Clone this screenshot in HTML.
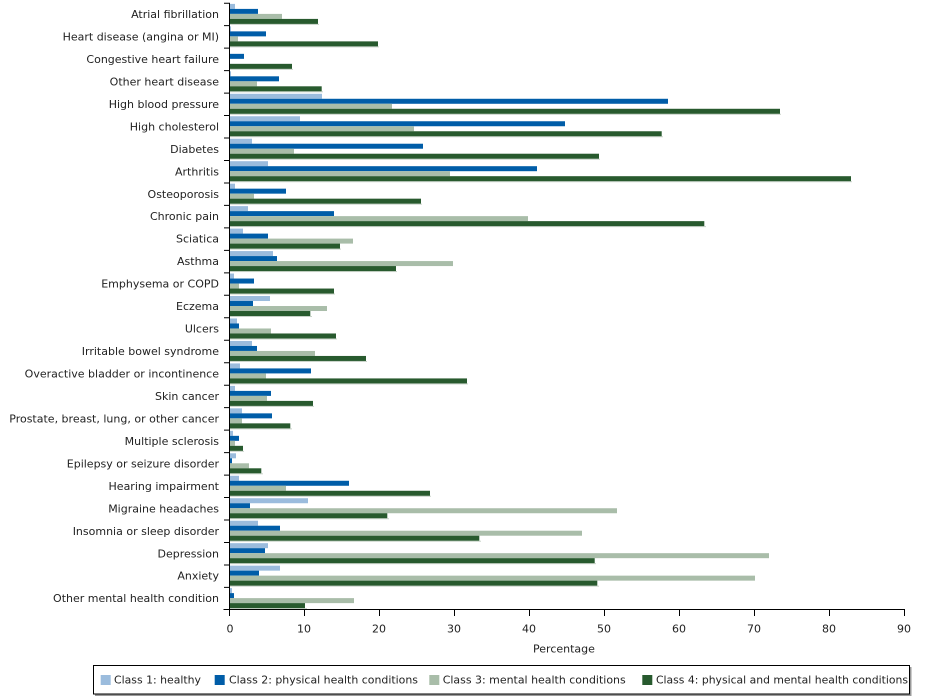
<!DOCTYPE html>
<html><head><meta charset="utf-8"><style>
html,body{margin:0;padding:0;background:#fff;}
svg{display:block;font-family:"DejaVu Sans","Liberation Sans",sans-serif;}
text{font-size:11px;fill:#222;}
.a{fill:#9BBCDD}.b{fill:#005DA8}.c{fill:#A9BDA9}.d{fill:#285A2E}.s{fill:#c9d3c9}
</style></head><body>
<svg width="929" height="699" viewBox="0 0 929 699" xmlns="http://www.w3.org/2000/svg">
<g id="bars">
<g transform="translate(0,2.7)"><text x="219" y="15.3" text-anchor="end">Atrial fibrillation</text><rect class="a" x="229" y="1.2" width="6" height="5"/><rect class="b" x="229" y="6.2" width="29" height="5"/><rect class="c" x="229" y="11.2" width="53" height="5"/><rect class="s" x="230" y="21.2" width="89" height="1"/><rect class="d" x="229" y="16.2" width="89" height="5"/></g>
<g transform="translate(0,25.17)"><text x="219" y="15.3" text-anchor="end">Heart disease (angina or MI)</text><rect class="a" x="229" y="1.2" width="2" height="5"/><rect class="b" x="229" y="6.2" width="37" height="5"/><rect class="c" x="229" y="11.2" width="9" height="5"/><rect class="s" x="230" y="21.2" width="149" height="1"/><rect class="d" x="229" y="16.2" width="149" height="5"/></g>
<g transform="translate(0,47.64)"><text x="219" y="15.3" text-anchor="end">Congestive heart failure</text><rect class="b" x="229" y="6.2" width="15" height="5"/><rect class="c" x="229" y="11.2" width="1" height="5"/><rect class="s" x="230" y="21.2" width="63" height="1"/><rect class="d" x="229" y="16.2" width="63" height="5"/></g>
<g transform="translate(0,70.11)"><text x="219" y="15.3" text-anchor="end">Other heart disease</text><rect class="a" x="229" y="1.2" width="2" height="5"/><rect class="b" x="229" y="6.2" width="50" height="5"/><rect class="c" x="229" y="11.2" width="28" height="5"/><rect class="s" x="230" y="21.2" width="93" height="1"/><rect class="d" x="229" y="16.2" width="92.7" height="5"/></g>
<g transform="translate(0,92.58)"><text x="219" y="15.3" text-anchor="end">High blood pressure</text><rect class="a" x="229" y="1.2" width="93" height="5"/><rect class="b" x="229" y="6.2" width="439" height="5"/><rect class="c" x="229" y="11.2" width="163" height="5"/><rect class="s" x="230" y="21.2" width="551" height="1"/><rect class="d" x="229" y="16.2" width="551" height="5"/></g>
<g transform="translate(0,115.05)"><text x="219" y="15.3" text-anchor="end">High cholesterol</text><rect class="a" x="229" y="1.2" width="71" height="5"/><rect class="b" x="229" y="6.2" width="336" height="5"/><rect class="c" x="229" y="11.2" width="185" height="5"/><rect class="s" x="230" y="21.2" width="433" height="1"/><rect class="d" x="229" y="16.2" width="432.7" height="5"/></g>
<g transform="translate(0,137.52)"><text x="219" y="15.3" text-anchor="end">Diabetes</text><rect class="a" x="229" y="1.2" width="23" height="5"/><rect class="b" x="229" y="6.2" width="194" height="5"/><rect class="c" x="229" y="11.2" width="65" height="5"/><rect class="s" x="230" y="21.2" width="370" height="1"/><rect class="d" x="229" y="16.2" width="370" height="5"/></g>
<g transform="translate(0,159.99)"><text x="219" y="15.3" text-anchor="end">Arthritis</text><rect class="a" x="229" y="1.2" width="39" height="5"/><rect class="b" x="229" y="6.2" width="308" height="5"/><rect class="c" x="229" y="11.2" width="221" height="5"/><rect class="s" x="230" y="21.2" width="622" height="1"/><rect class="d" x="229" y="16.2" width="622" height="5"/></g>
<g transform="translate(0,182.46)"><text x="219" y="15.3" text-anchor="end">Osteoporosis</text><rect class="a" x="229" y="1.2" width="6" height="5"/><rect class="b" x="229" y="6.2" width="57" height="5"/><rect class="c" x="229" y="11.2" width="25" height="5"/><rect class="s" x="230" y="21.2" width="192" height="1"/><rect class="d" x="229" y="16.2" width="192" height="5"/></g>
<g transform="translate(0,204.93)"><text x="219" y="15.3" text-anchor="end">Chronic pain</text><rect class="a" x="229" y="1.2" width="19" height="5"/><rect class="b" x="229" y="6.2" width="105" height="5"/><rect class="c" x="229" y="11.2" width="299" height="5"/><rect class="s" x="230" y="21.2" width="476" height="1"/><rect class="d" x="229" y="16.2" width="475.3" height="5"/></g>
<g transform="translate(0,227.4)"><text x="219" y="15.3" text-anchor="end">Sciatica</text><rect class="a" x="229" y="1.2" width="14" height="5"/><rect class="b" x="229" y="6.2" width="39" height="5"/><rect class="c" x="229" y="11.2" width="124" height="5"/><rect class="s" x="230" y="21.2" width="111" height="1"/><rect class="d" x="229" y="16.2" width="111" height="5"/></g>
<g transform="translate(0,249.87)"><text x="219" y="15.3" text-anchor="end">Asthma</text><rect class="a" x="229" y="1.2" width="44" height="5"/><rect class="b" x="229" y="6.2" width="48" height="5"/><rect class="c" x="229" y="11.2" width="224" height="5"/><rect class="s" x="230" y="21.2" width="167" height="1"/><rect class="d" x="229" y="16.2" width="167" height="5"/></g>
<g transform="translate(0,272.34)"><text x="219" y="15.3" text-anchor="end">Emphysema or COPD</text><rect class="a" x="229" y="1.2" width="5" height="5"/><rect class="b" x="229" y="6.2" width="25" height="5"/><rect class="c" x="229" y="11.2" width="10" height="5"/><rect class="s" x="230" y="21.2" width="105" height="1"/><rect class="d" x="229" y="16.2" width="105" height="5"/></g>
<g transform="translate(0,294.81)"><text x="219" y="15.3" text-anchor="end">Eczema</text><rect class="a" x="229" y="1.2" width="41" height="5"/><rect class="b" x="229" y="6.2" width="24" height="5"/><rect class="c" x="229" y="11.2" width="98" height="5"/><rect class="s" x="230" y="21.2" width="82" height="1"/><rect class="d" x="229" y="16.2" width="81.3" height="5"/></g>
<g transform="translate(0,317.28)"><text x="219" y="15.3" text-anchor="end">Ulcers</text><rect class="a" x="229" y="1.2" width="8" height="5"/><rect class="b" x="229" y="6.2" width="10" height="5"/><rect class="c" x="229" y="11.2" width="42" height="5"/><rect class="s" x="230" y="21.2" width="107" height="1"/><rect class="d" x="229" y="16.2" width="107" height="5"/></g>
<g transform="translate(0,339.75)"><text x="219" y="15.3" text-anchor="end">Irritable bowel syndrome</text><rect class="a" x="229" y="1.2" width="23" height="5"/><rect class="b" x="229" y="6.2" width="28" height="5"/><rect class="c" x="229" y="11.2" width="86" height="5"/><rect class="s" x="230" y="21.2" width="137" height="1"/><rect class="d" x="229" y="16.2" width="137" height="5"/></g>
<g transform="translate(0,362.22)"><text x="219" y="15.3" text-anchor="end">Overactive bladder or incontinence</text><rect class="a" x="229" y="1.2" width="11" height="5"/><rect class="b" x="229" y="6.2" width="82" height="5"/><rect class="c" x="229" y="11.2" width="37" height="5"/><rect class="s" x="230" y="21.2" width="238" height="1"/><rect class="d" x="229" y="16.2" width="238" height="5"/></g>
<g transform="translate(0,384.69)"><text x="219" y="15.3" text-anchor="end">Skin cancer</text><rect class="a" x="229" y="1.2" width="6" height="5"/><rect class="b" x="229" y="6.2" width="42" height="5"/><rect class="c" x="229" y="11.2" width="38" height="5"/><rect class="s" x="230" y="21.2" width="84" height="1"/><rect class="d" x="229" y="16.2" width="84" height="5"/></g>
<g transform="translate(0,407.16)"><text x="219" y="15.3" text-anchor="end">Prostate, breast, lung, or other cancer</text><rect class="a" x="229" y="1.2" width="13" height="5"/><rect class="b" x="229" y="6.2" width="43" height="5"/><rect class="c" x="229" y="11.2" width="13" height="5"/><rect class="s" x="230" y="21.2" width="62" height="1"/><rect class="d" x="229" y="16.2" width="61.3" height="5"/></g>
<g transform="translate(0,429.63)"><text x="219" y="15.3" text-anchor="end">Multiple sclerosis</text><rect class="a" x="229" y="1.2" width="4" height="5"/><rect class="b" x="229" y="6.2" width="10" height="5"/><rect class="c" x="229" y="11.2" width="6" height="5"/><rect class="s" x="230" y="21.2" width="14" height="1"/><rect class="d" x="229" y="16.2" width="14" height="5"/></g>
<g transform="translate(0,452.1)"><text x="219" y="15.3" text-anchor="end">Epilepsy or seizure disorder</text><rect class="a" x="229" y="1.2" width="7" height="5"/><rect class="b" x="229" y="6.2" width="3" height="5"/><rect class="c" x="229" y="11.2" width="20" height="5"/><rect class="s" x="230" y="21.2" width="33" height="1"/><rect class="d" x="229" y="16.2" width="32.3" height="5"/></g>
<g transform="translate(0,474.57)"><text x="219" y="15.3" text-anchor="end">Hearing impairment</text><rect class="a" x="229" y="1.2" width="10" height="5"/><rect class="b" x="229" y="6.2" width="120" height="5"/><rect class="c" x="229" y="11.2" width="57" height="5"/><rect class="s" x="230" y="21.2" width="201" height="1"/><rect class="d" x="229" y="16.2" width="201" height="5"/></g>
<g transform="translate(0,497.04)"><text x="219" y="15.3" text-anchor="end">Migraine headaches</text><rect class="a" x="229" y="1.2" width="79" height="5"/><rect class="b" x="229" y="6.2" width="21" height="5"/><rect class="c" x="229" y="11.2" width="388" height="5"/><rect class="s" x="230" y="21.2" width="159" height="1"/><rect class="d" x="229" y="16.2" width="158.3" height="5"/></g>
<g transform="translate(0,519.51)"><text x="219" y="15.3" text-anchor="end">Insomnia or sleep disorder</text><rect class="a" x="229" y="1.2" width="29" height="5"/><rect class="b" x="229" y="6.2" width="51" height="5"/><rect class="c" x="229" y="11.2" width="353" height="5"/><rect class="s" x="230" y="21.2" width="251" height="1"/><rect class="d" x="229" y="16.2" width="250.3" height="5"/></g>
<g transform="translate(0,541.98)"><text x="219" y="15.3" text-anchor="end">Depression</text><rect class="a" x="229" y="1.2" width="39" height="5"/><rect class="b" x="229" y="6.2" width="36" height="5"/><rect class="c" x="229" y="11.2" width="540" height="5"/><rect class="s" x="230" y="21.2" width="366" height="1"/><rect class="d" x="229" y="16.2" width="365.7" height="5"/></g>
<g transform="translate(0,564.45)"><text x="219" y="15.3" text-anchor="end">Anxiety</text><rect class="a" x="229" y="1.2" width="51" height="5"/><rect class="b" x="229" y="6.2" width="30" height="5"/><rect class="c" x="229" y="11.2" width="526" height="5"/><rect class="s" x="230" y="21.2" width="369" height="1"/><rect class="d" x="229" y="16.2" width="368.3" height="5"/></g>
<g transform="translate(0,586.92)"><text x="219" y="15.3" text-anchor="end">Other mental health condition</text><rect class="a" x="229" y="1.2" width="3" height="5"/><rect class="b" x="229" y="6.2" width="5" height="5"/><rect class="c" x="229" y="11.2" width="125" height="5"/><rect class="s" x="230" y="21.2" width="77" height="1"/><rect class="d" x="229" y="16.2" width="76" height="5"/></g>
</g>
<g stroke="#000" stroke-width="1" fill="none">
<line x1="229.5" y1="2.7" x2="229.5" y2="609.9"/>
<line x1="223.5" y1="609.5" x2="905" y2="609.5"/>
<path d="M224 3.2H229M224 25.67H229M224 48.14H229M224 70.61H229M224 93.08H229M224 115.55H229M224 138.02H229M224 160.49H229M224 182.96H229M224 205.43H229M224 227.9H229M224 250.37H229M224 272.84H229M224 295.31H229M224 317.78H229M224 340.25H229M224 362.72H229M224 385.19H229M224 407.66H229M224 430.13H229M224 452.6H229M224 475.07H229M224 497.54H229M224 520.01H229M224 542.48H229M224 564.95H229M224 587.42H229"/>
<path d="M229.5 609V616M304.5 609V616M379.5 609V616M454.5 609V616M529.5 609V616M604.5 609V616M679.5 609V616M754.5 609V616M829.5 609V616M904.5 609V616"/>
</g>
<g text-anchor="middle">
<text x="230" y="632.3">0</text>
<text x="304" y="632.3">10</text>
<text x="379" y="632.3">20</text>
<text x="454" y="632.3">30</text>
<text x="529" y="632.3">40</text>
<text x="604" y="632.3">50</text>
<text x="679" y="632.3">60</text>
<text x="754" y="632.3">70</text>
<text x="829" y="632.3">80</text>
<text x="904" y="632.3">90</text>
<text x="564" y="652.3">Percentage</text>
</g>
<rect x="95" y="694" width="816" height="2" fill="#9a9a9a"/>
<rect x="910" y="667" width="1.5" height="29" fill="#9a9a9a"/>
<rect x="93.5" y="665.5" width="816" height="28.5" fill="#fff" stroke="#000" stroke-width="1"/>
<rect class="a" x="100.7" y="675" width="10" height="10"/>
<text x="114" y="683.3" textLength="87" lengthAdjust="spacingAndGlyphs">Class 1: healthy</text>
<rect class="b" x="214.7" y="675" width="10" height="10"/>
<text x="229" y="683.3" textLength="189" lengthAdjust="spacingAndGlyphs">Class 2: physical health conditions</text>
<rect class="c" x="429.3" y="675" width="10" height="10"/>
<text x="442.7" y="683.3" textLength="183" lengthAdjust="spacingAndGlyphs">Class 3: mental health conditions</text>
<rect class="d" x="642.3" y="675" width="10" height="10"/>
<text x="656" y="683.3" textLength="252" lengthAdjust="spacingAndGlyphs">Class 4: physical and mental health conditions</text>
</svg>
</body></html>
